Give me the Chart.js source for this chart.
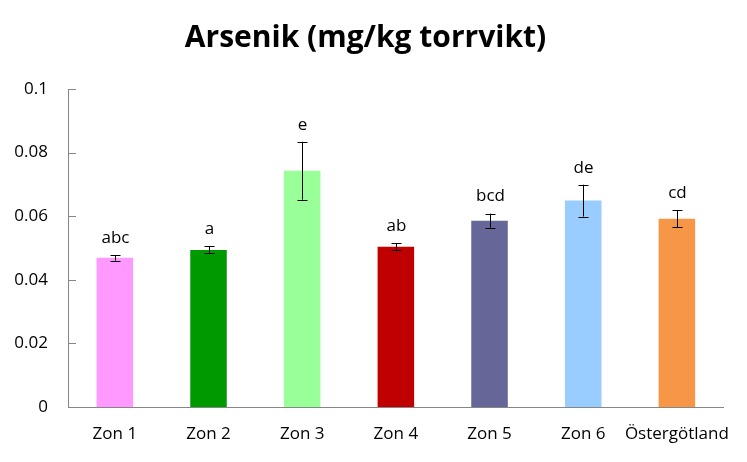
<!DOCTYPE html>
<html>
<head>
<meta charset="utf-8">
<script src="https://cdn.jsdelivr.net/npm/chart.js@4.4.1/dist/chart.umd.min.js"></script>
<style>
  html, body { margin: 0; padding: 0; background: #fff; }
  #wrap { width: 747px; height: 462px; }
</style>
</head>
<body>
<div id="wrap"><canvas id="chart"></canvas></div>
<script>
// values
const zones = ['Zon 1', 'Zon 2', 'Zon 3', 'Zon 4', 'Zon 5', 'Zon 6', 'Östergötland'];
const arsenic = [0.0469, 0.0494, 0.0743, 0.0504, 0.0586, 0.0649, 0.0592];
const errors = [0.0009, 0.0011, 0.0091, 0.0011, 0.0022, 0.0050, 0.0026];
const letters = ['abc', 'a', 'e', 'ab', 'bcd', 'de', 'cd'];
const barColors = ['#FF99FF', '#009900', '#99FF99', '#C00000', '#666699', '#99CCFF', '#F79646'];

const fontFam = '"Open Sans", Lato, sans-serif';

// error bars, letters and inner y ticks
const extras = {
  id: 'extras',
  afterDatasetsDraw(chart) {
    const ctx = chart.ctx;
    const x = chart.scales.x, y = chart.scales.y;
    ctx.save();
    ctx.strokeStyle = '#000';
    ctx.lineWidth = 1;
    arsenic.forEach((v, i) => {
      const cx = Math.round(x.getPixelForValue(i)) + 0.5;
      const top = y.getPixelForValue(v + errors[i]);
      const bot = y.getPixelForValue(v - errors[i]);
      ctx.beginPath();
      ctx.moveTo(cx, top); ctx.lineTo(cx, bot);
      ctx.moveTo(cx - 5, Math.round(top) + 0.5); ctx.lineTo(cx + 5, Math.round(top) + 0.5);
      ctx.moveTo(cx - 5, Math.round(bot) + 0.5); ctx.lineTo(cx + 5, Math.round(bot) + 0.5);
      ctx.stroke();
      ctx.fillStyle = '#000';
      ctx.font = '17px ' + fontFam;
      ctx.textAlign = 'center';
      ctx.textBaseline = 'middle';
      ctx.fillText(letters[i], cx, top - 17);
    });
    ctx.strokeStyle = '#868686';
    y.ticks.forEach(t => {
      const py = Math.round(y.getPixelForValue(t.value)) + 0.5;
      ctx.beginPath();
      ctx.moveTo(chart.chartArea.left, py);
      ctx.lineTo(chart.chartArea.left + 8, py);
      ctx.stroke();
    });
    ctx.restore();
  }
};

new Chart(document.getElementById('chart'), {
  type: 'bar',
  data: {
    labels: zones,
    datasets: [{
      data: arsenic,
      backgroundColor: barColors,
      borderWidth: 0,
      barPercentage: 0.39,
      categoryPercentage: 1
    }]
  },
  options: {
    responsive: true,
    maintainAspectRatio: false,
    animation: false,
    layout: { padding: { left: 0, right: 16, top: 0, bottom: 0 } },
    plugins: {
      legend: { display: false },
      tooltip: { enabled: false },
      title: {
        display: true,
        text: 'Arsenik (mg/kg torrvikt)',
        color: '#000',
        font: { family: fontFam, size: 30, weight: 'bold', lineHeight: 1.2 },
        padding: { top: 20, bottom: 33 }
      }
    },
    scales: {
      x: {
        grid: { display: false, drawTicks: false },
        border: { color: '#868686', width: 1 },
        ticks: { color: '#000', font: { family: fontFam, size: 17 }, padding: 17, maxRotation: 0, autoSkip: false },
        afterFit(s) { s.height = 55; }
      },
      y: {
        min: 0,
        max: 0.1,
        grid: { display: false, drawTicks: false },
        border: { color: '#868686', width: 1 },
        ticks: {
          stepSize: 0.02,
          color: '#000',
          font: { family: fontFam, size: 17 },
          padding: 20,
          callback: v => String(+v.toFixed(2))
        },
        afterFit(s) { s.width = 68; }
      }
    }
  },
  plugins: [extras]
});
</script>
</body>
</html>
